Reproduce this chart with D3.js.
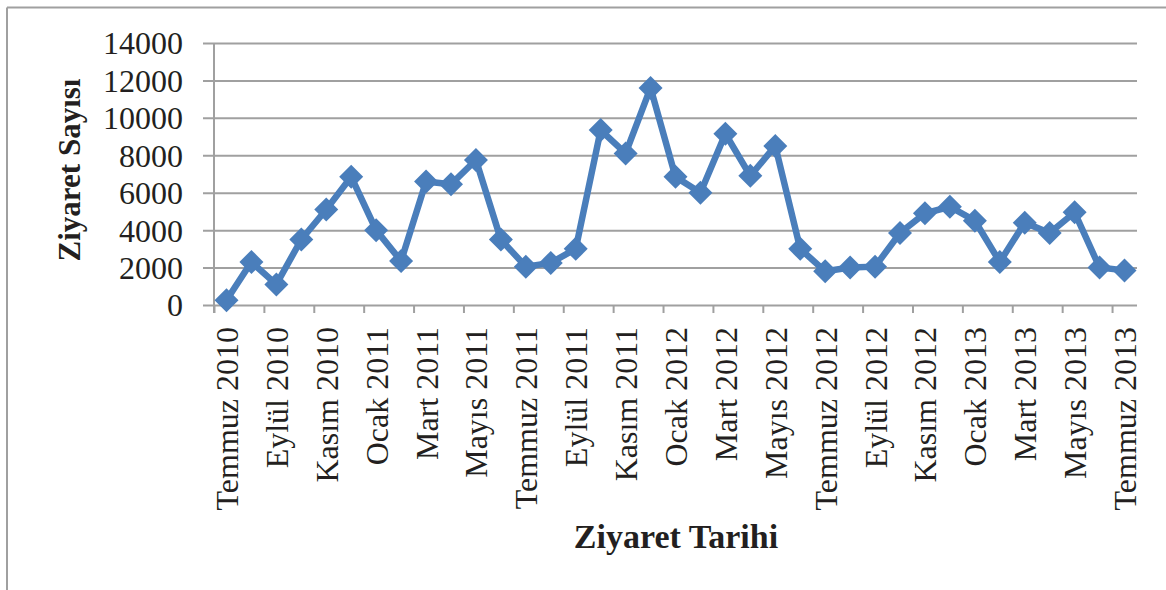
<!DOCTYPE html>
<html>
<head>
<meta charset="utf-8">
<script src="https://cdn.jsdelivr.net/npm/d3@7"></script>
<style>
  html, body { margin: 0; padding: 0; background: #fff; }
  svg { display: block; }
  text { font-family: "Liberation Serif", "Times New Roman", serif; fill: #231f20; }
</style>
</head>
<body>
<svg id="chart" width="1166" height="590"></svg>
<script>
const months = [
  "Temmuz 2010","Ağustos 2010","Eylül 2010","Ekim 2010","Kasım 2010","Aralık 2010",
  "Ocak 2011","Şubat 2011","Mart 2011","Nisan 2011","Mayıs 2011","Haziran 2011",
  "Temmuz 2011","Ağustos 2011","Eylül 2011","Ekim 2011","Kasım 2011","Aralık 2011",
  "Ocak 2012","Şubat 2012","Mart 2012","Nisan 2012","Mayıs 2012","Haziran 2012",
  "Temmuz 2012","Ağustos 2012","Eylül 2012","Ekim 2012","Kasım 2012","Aralık 2012",
  "Ocak 2013","Şubat 2013","Mart 2013","Nisan 2013","Mayıs 2013","Haziran 2013",
  "Temmuz 2013"
];
const visits = [
  250, 2300, 1100, 3500, 5100, 6850,
  4000, 2350, 6600, 6450, 7750, 3500,
  2050, 2250, 3000, 9350, 8100, 11600,
  6850, 6000, 9150, 6900, 8500, 3000,
  1800, 2000, 2050, 3850, 4900, 5250,
  4500, 2300, 4400, 3850, 4950, 2000,
  1850
];
const yTicks = [0, 2000, 4000, 6000, 8000, 10000, 12000, 14000];
const xTitle = "Ziyaret Tarihi";
const yTitle = "Ziyaret Sayısı";

(function () {
const svg = d3.select("#chart");
const pL = 214, pR = 1137, pT = 43, pB = 305;
const grey = "#a0a0a0";
const blue = "#4a7ebb";

// outer border (top and left visible)
svg.append("line").attr("x1", 7).attr("x2", 1166).attr("y1", 7.5).attr("y2", 7.5)
  .attr("stroke", grey).attr("stroke-width", 2);
svg.append("line").attr("x1", 7).attr("x2", 7).attr("y1", 7.5).attr("y2", 590)
  .attr("stroke", grey).attr("stroke-width", 2);

const x = d3.scaleBand().domain(d3.range(months.length)).range([pL, pR]).padding(0);
const y = d3.scaleLinear().domain([0, 14000]).range([pB, pT]);

// y axis with gridlines
const gy = svg.append("g").attr("transform", `translate(${pL - 11},0)`)
  .call(d3.axisLeft(y).tickValues(yTicks).tickSize(-(pR - pL + 11)).tickPadding(20).tickFormat(d3.format("d")));
gy.select(".domain").remove();
gy.selectAll(".tick line").attr("stroke", grey).attr("stroke-width", 2);
gy.selectAll(".tick text").style("font-size", "32px").attr("fill", "#231f20")
  .style("font-family", '"Liberation Serif", serif').attr("dy", "0.34em");

// vertical axis line
svg.append("line").attr("x1", pL).attr("x2", pL).attr("y1", pT).attr("y2", pB + 8)
  .attr("stroke", grey).attr("stroke-width", 2);

// x-axis boundary tick marks
const bw = x.bandwidth();
const xb = d3.scaleLinear().domain([0, months.length]).range([pL, pR]);
const gxt = svg.append("g").attr("transform", `translate(0,${pB})`)
  .call(d3.axisBottom(xb).tickValues(d3.range(0, months.length, 2)).tickSize(8).tickFormat(""));
gxt.select(".domain").remove();
gxt.selectAll(".tick line").attr("stroke", grey).attr("stroke-width", 2);

// x-axis labels
const labelIdx = d3.range(0, months.length, 2);
const gx = svg.append("g").attr("transform", `translate(0,${pB})`)
  .call(d3.axisBottom(x).tickValues(labelIdx).tickSize(0).tickFormat(i => months[i]));
gx.select(".domain").remove();
gx.selectAll(".tick text")
  .style("font-size", "32px").style("font-family", '"Liberation Serif", serif').attr("fill", "#231f20")
  .attr("text-anchor", "end")
  .attr("transform", "rotate(-90)")
  .attr("x", -22).attr("y", 0).attr("dy", "0.36em");

// line
const line = d3.line().x((d, i) => x(i) + bw / 2).y(d => y(d));
svg.append("path").datum(visits).attr("d", line)
  .attr("fill", "none").attr("stroke", blue).attr("stroke-width", 6.5).attr("stroke-linejoin", "miter");

// diamond markers
const s = 12;
svg.append("g").selectAll("path").data(visits).join("path")
  .attr("transform", (d, i) => `translate(${x(i) + bw / 2},${y(d)})`)
  .attr("d", `M0,${-s}L${s},0L0,${s}L${-s},0Z`)
  .attr("fill", blue);

// axis titles
svg.append("text").attr("x", 676).attr("y", 548).attr("text-anchor", "middle")
  .style("font-size", "34px").style("font-weight", "bold").text(xTitle);
svg.append("text").attr("transform", "translate(80,170) rotate(-90)").attr("text-anchor", "middle")
  .style("font-size", "31px").style("font-weight", "bold").text(yTitle);
})();
</script>
</body>
</html>
